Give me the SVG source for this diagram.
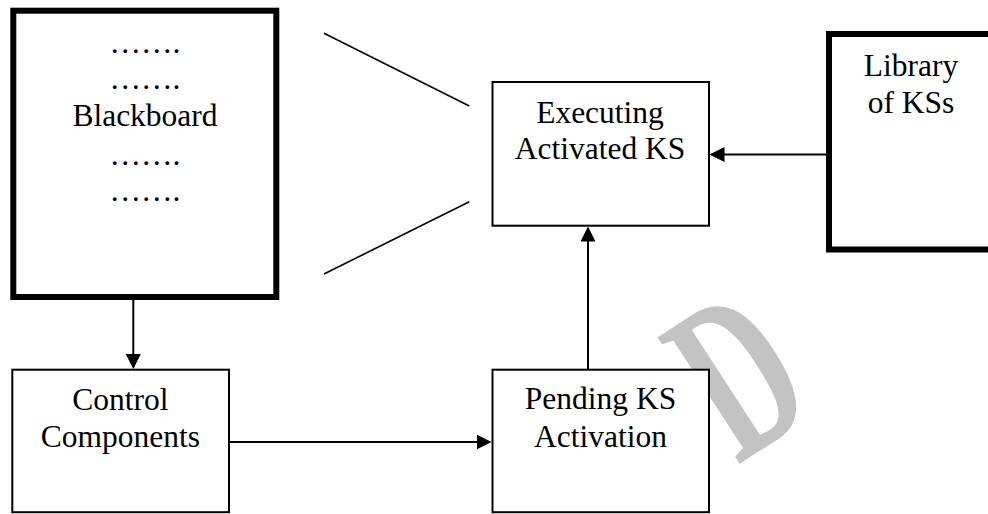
<svg xmlns="http://www.w3.org/2000/svg" width="988" height="514" viewBox="0 0 988 514">
  <style>
    .lbl { font-family: "Liberation Serif", "Times New Roman", serif; font-size: 31.5px; fill: #000; text-anchor: middle; }
    .box { fill: #fff; stroke: #000; stroke-width: 2; }
    .heavy { fill: #fff; stroke: #000; stroke-width: 6; }
    .wire { fill: none; stroke: #000; stroke-width: 2; }
    .slant { fill: none; stroke: #000; stroke-width: 1.6; }
    .mark { font-family: "Liberation Serif", "Times New Roman", serif; font-weight: bold; font-size: 230px; fill: #c3c3c3; text-anchor: middle; }
  </style>
  <defs>
    <marker id="head" viewBox="0 0 15 15" refX="13" refY="7.5" markerWidth="15" markerHeight="15" markerUnits="userSpaceOnUse" orient="auto">
      <path d="M0,0 L15,7.5 L0,15 Z" fill="#000"/>
    </marker>
  </defs>

  <rect width="988" height="514" fill="#fff"/>

  <!-- faint background letter -->
  <text class="mark" transform="translate(738,374) rotate(-33) scale(0.6,1)" x="0" y="76">D</text>

  <!-- connectors -->
  <g id="connectors">
    <line class="slant" x1="324" y1="33.3" x2="469.3" y2="106"/>
    <line class="slant" x1="469.3" y1="201.7" x2="324" y2="274"/>
    <line class="wire" x1="133.3" y1="300" x2="133.3" y2="367" marker-end="url(#head)"/>
    <line class="wire" x1="229" y1="442" x2="489.5" y2="442" marker-end="url(#head)"/>
    <line class="wire" x1="588" y1="369.7" x2="588" y2="228.5" marker-end="url(#head)"/>
    <line class="wire" x1="826" y1="154.5" x2="711.5" y2="154.5" marker-end="url(#head)"/>
  </g>

  <g id="blackboard">
    <rect class="heavy" x="13.3" y="10.7" width="263" height="286.3"/>
    <text class="lbl" x="145" y="53">…….</text>
    <text class="lbl" x="145" y="89">…….</text>
    <text class="lbl" x="145" y="126">Blackboard</text>
    <text class="lbl" x="145" y="164.5">…….</text>
    <text class="lbl" x="145" y="200.5">…….</text>
  </g>

  <g id="executing">
    <rect class="box" x="492.5" y="82" width="216.5" height="143.7"/>
    <text class="lbl" x="600" y="122.7">Executing</text>
    <text class="lbl" x="600" y="159">Activated KS</text>
  </g>

  <g id="library">
    <rect class="heavy" x="829" y="34" width="175" height="215.5"/>
    <text class="lbl" x="911" y="76">Library</text>
    <text class="lbl" x="911" y="113.3">of KSs</text>
  </g>

  <g id="control">
    <rect class="box" x="12.3" y="369.7" width="216.7" height="142.5"/>
    <text class="lbl" x="120.5" y="410">Control</text>
    <text class="lbl" x="120.5" y="446.7">Components</text>
  </g>

  <g id="pending">
    <rect class="box" x="492.5" y="369.7" width="216.5" height="142.5"/>
    <text class="lbl" x="600.5" y="409">Pending KS</text>
    <text class="lbl" x="600.5" y="446.7">Activation</text>
  </g>
</svg>
